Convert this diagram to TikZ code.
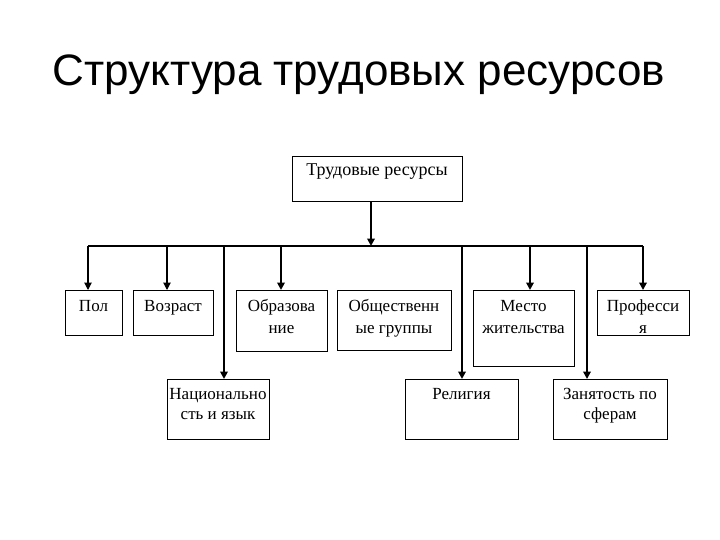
\documentclass[tikz,border=0pt]{standalone}
\usepackage{fontspec}
\setmainfont{Liberation Serif}
\newfontfamily\titlefont{Liberation Sans}
\usetikzlibrary{arrows.meta}
% #1 name, #2 x, #3 y, #4 width, #5 height, #6 first baseline, #7 font size, #8 line skip, #9 text
\newcommand\bx[9]{%
  \node[boxnode, anchor=north west] (#1) at (#2,#3)
   {\parbox[c][#5pt][t]{#4pt}{\centering\fontsize{#7pt}{#8pt}\selectfont\rule{0pt}{#6pt}#9\par}};}
\tikzset{
  boxnode/.style={draw=black, line width=1pt, inner sep=0pt, outer sep=0pt},
  thinarrow/.style={line width=1.1pt, -{Triangle[width=7.5pt,length=7.5pt]}},
  thickarrow/.style={line width=2.2pt, -{Triangle[width=7.5pt,length=7.5pt]}},
  busline/.style={line width=1.4pt},
}
\begin{document}
\begin{tikzpicture}[x=1pt,y=-1pt]
\useasboundingbox[fill=white] (0,0) rectangle (720,540);
\node[anchor=base, inner sep=0] (title) at (359,86)
  {\titlefont\fontsize{44pt}{50pt}\selectfont Структура трудовых ресурсов};
\bx{top}{292}{157}{170}{45}{19}{18}{21}{Трудовые ресурсы}
\bx{pol}{65}{290}{57}{45}{21}{17}{22}{Пол}
\bx{voz}{133}{290}{80}{45}{21}{17}{22}{Возраст}
\bx{obr}{236}{290}{91}{61}{21}{17}{22}{Образова\\ние}
\bx{nat}{167}{379}{102}{60}{20}{17}{20}{Национально\\сть и язык}
\bx{obsh}{337}{290}{114}{60}{21}{17}{22}{Общественн\\ые группы}
\bx{rel}{405}{379}{113}{60}{20}{17}{20}{Религия}
\bx{mesto}{473}{290}{101}{76}{21}{17}{22}{Место\\жительства}
\bx{zan}{553}{379}{114}{60}{20}{17}{20}{Занятость по\\сферам}
\bx{prof}{597}{290}{92}{45}{21}{17}{22}{Професси\\я}
% bus
\coordinate (bL) at (88,246);
\coordinate (bR) at (643,246);
\coordinate (bM) at (371,246);
\draw[busline] (bL) -- (bR);
\draw[thickarrow] (top.south -| bM) -- (bM);
\coordinate (t1) at (88,246);
\coordinate (t2) at (167,246);
\coordinate (t3) at (224,246);
\coordinate (t4) at (281,246);
\coordinate (t5) at (462,246);
\coordinate (t6) at (530,246);
\coordinate (t7) at (587,246);
\coordinate (t8) at (643,246);
\draw[thinarrow] (t1) -- (t1 |- pol.north);
\draw[thinarrow] (t2) -- (t2 |- voz.north);
\draw[thickarrow] (t3) -- (t3 |- nat.north);
\draw[thickarrow] (t4) -- (t4 |- obr.north);
\draw[thickarrow] (t5) -- (t5 |- rel.north);
\draw[thickarrow] (t6) -- (t6 |- mesto.north);
\draw[thickarrow] (t7) -- (t7 |- zan.north);
\draw[thickarrow] (t8) -- (t8 |- prof.north);
\end{tikzpicture}
\end{document}
